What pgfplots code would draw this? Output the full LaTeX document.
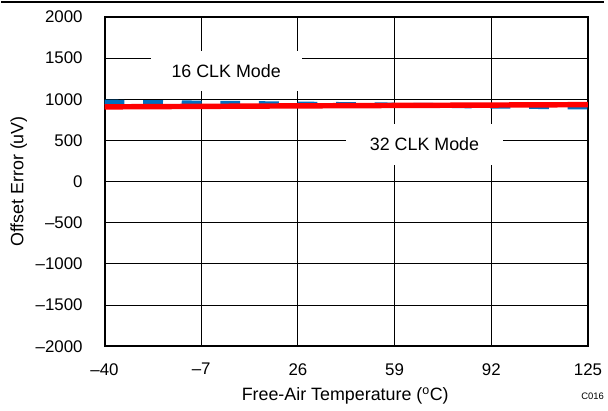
\documentclass[border=0pt]{standalone}
\usepackage{fontspec}
\setmainfont{Liberation Sans}
\usepackage{pgfplots}
\pgfplotsset{compat=1.18}
\definecolor{tiblue}{RGB}{0,112,192}
\definecolor{tired}{RGB}{255,0,0}
\begin{document}
\fontsize{18}{21}\selectfont
\begin{tikzpicture}
\begin{axis}[
    scale only axis,
    width=487.3pt, height=332pt,
    xmin=-40, xmax=125, ymin=-2000, ymax=2000,
    xtick={-40,-7,26,59,92,125},
    xticklabels={–40,–7,26,59,92,125},
    ytick={-2000,-1500,-1000,-500,0,500,1000,1500,2000},
    yticklabels={–2000,–1500,–1000,–500,0,500,1000,1500,2000},
    grid=major,
    major grid style={black, line width=0.9pt},
    major tick length=0pt,
    axis line style={black, line width=2pt},
    tick label style={font=\fontsize{17}{20}\selectfont},
    xticklabel style={yshift=-11pt},
    yticklabel style={xshift=-16pt},
    xlabel={Free-Air Temperature (\textsuperscript{o}C)},
    ylabel={Offset Error (uV)},
    label style={font=\fontsize{18}{21}\selectfont},
    xlabel style={at={(axis description cs:0.4978,-0.1506)}, anchor=center},
    ylabel style={at={(axis description cs:-0.1773,0.5)}, anchor=center},
    clip=false,
]
\node[fill=white, minimum width=152pt, minimum height=41pt, inner sep=0pt] at (axis cs:1.5,1344) {16 CLK Mode};
\node[fill=white, minimum width=158pt, minimum height=41pt, inner sep=0pt] at (axis cs:69.2,452) {32 CLK Mode};
\addplot[tiblue, line width=5pt, dash pattern=on 20pt off 18.9pt] coordinates {
(-40,965) (-7,953) (26,941) (59,929) (92,917) (125,905)};
\addplot[tired, line width=5.5pt] coordinates {
(-40,907) (-7,913) (26,919) (59,924) (92,929) (125,934)};
\end{axis}
\draw[black, line width=2pt] (-104.4pt,347pt) -- (503.6pt,347pt);
\node[font=\fontsize{9.5}{11}\selectfont, anchor=east, inner sep=0pt] at (503.6pt,-50pt) {C016};
\path (-104.4pt,-59pt) rectangle (503.6pt,349pt);
\end{tikzpicture}
\end{document}
